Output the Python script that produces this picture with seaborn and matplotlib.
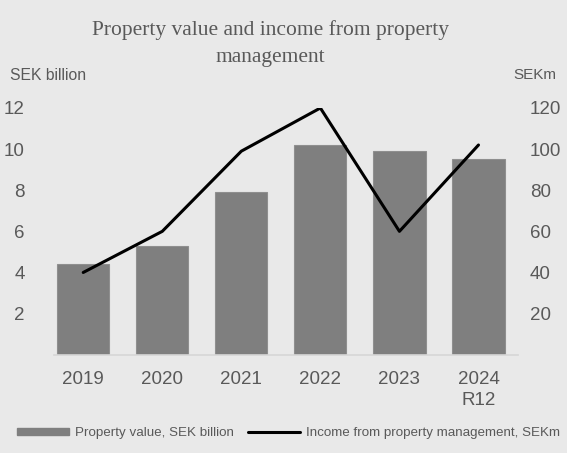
import matplotlib
matplotlib.use("Agg")
import matplotlib.pyplot as plt
from matplotlib.lines import Line2D
from matplotlib.patches import Patch
import numpy as np
import pandas as pd
import seaborn as sns

# Chart data
years = ["2019", "2020", "2021", "2022", "2023", "2024\nR12"]
property_value = [4.4, 5.3, 7.9, 10.2, 9.9, 9.5]        # SEK billion
income_mgmt = [40, 60, 99, 120, 60, 102]                # SEKm
left_ticks = [2, 4, 6, 8, 10, 12]
right_ticks = [20, 40, 60, 80, 100, 120]

BG = "#e9e9e9"
TEXT = "#595959"
BAR = "#7f7f7f"

sns.set_theme(style="white")
plt.rcParams["font.family"] = ["Liberation Sans", "DejaVu Sans"]

df = pd.DataFrame({"year": years, "value": property_value, "income": income_mgmt})
df["pos"] = np.arange(len(df))

fig = plt.figure(figsize=(5.67, 4.53), dpi=100, facecolor=BG)
ax = fig.add_axes([0.0952, 0.217, 0.8184, 0.5446])
ax.set_facecolor(BG)

sns.barplot(data=df, x="year", y="value", ax=ax, color=BAR, width=0.66,
            saturation=1, edgecolor="#8f8f8f", linewidth=0.8)

ax2 = ax.twinx()
sns.lineplot(data=df, x="pos", y="income", ax=ax2, color="black", linewidth=2.2)

ax.set_xlim(-0.37, 5.5)
ax.set_ylim(0, 12)
ax2.set_ylim(0, 120)

ax.set_yticks(left_ticks)
ax2.set_yticks(right_ticks)
ax.set_xlabel("")
ax.set_ylabel("")
ax2.set_xlabel("")
ax2.set_ylabel("")

for a in (ax, ax2):
    for s in a.spines.values():
        s.set_visible(False)
    a.tick_params(length=0, colors=TEXT, labelsize=13.5)
ax.spines["bottom"].set_visible(True)
ax.spines["bottom"].set_color("#d6d6d6")
ax.spines["bottom"].set_linewidth(1.2)

ax.tick_params(axis="y", pad=21)
ax.tick_params(axis="x", pad=12)
ax2.tick_params(axis="y", pad=8.6)
for lbl in ax.get_xticklabels():
    lbl.set_linespacing(1.25)

# Axis unit captions
fig.text(10 / 567, 1 - 75 / 453, "SEK billion", color=TEXT, fontsize=11.3,
         ha="left", va="center")
fig.text(513 / 567, 1 - 75 / 453, "SEKm", color=TEXT, fontsize=11,
         ha="left", va="center")

# Title
fig.text(270 / 567, 1 - 43.5 / 453,
         "Property value and income from property\nmanagement",
         family=["Liberation Serif", "DejaVu Serif"], fontsize=15.5,
         color=TEXT, ha="center", va="center", linespacing=1.55)

# Legend
handles = [Patch(facecolor=BAR, edgecolor=BAR),
           Line2D([0], [0], color="black", linewidth=2.2)]
labels = ["Property value, SEK billion", "Income from property management, SEKm"]
fig.legend(handles, labels, loc="center left", bbox_to_anchor=(17 / 567, 1 - 433 / 453),
           ncol=2, frameon=False, fontsize=9.6, labelcolor=TEXT,
           handlelength=3.9, handleheight=0.45, handletextpad=0.45,
           columnspacing=1.05, borderaxespad=0, borderpad=0)

fig.savefig("out.png", dpi=100, facecolor=BG)
